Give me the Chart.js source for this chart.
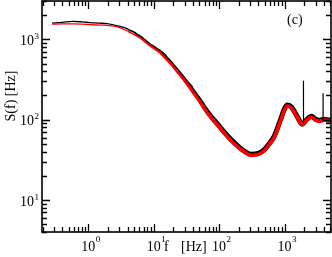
<!doctype html>
<html>

<head>
    <title>Power spectrum</title>
    <script src="https://cdn.jsdelivr.net/npm/chart.js@4"></script>
    <style>
        body { margin: 0; background: #fff; }
    </style>
</head>

<body>
    <div id="canvas-holder" style="width:332px;height:257px">
        <canvas id="chart-area" width="332" height="257"></canvas>
    </div>
    <script>
    // spectrum, f in Hz, S(f) in Hz
    var freqBlack = [0.28, 0.4, 0.58, 0.8, 1.06, 1.5, 1.94, 2.5, 3.07, 3.6, 4.2, 5, 5.6, 6.24, 7, 8, 9, 10, 11.5, 12.7, 14.5, 16, 18, 20, 23, 25.7, 29, 32, 36, 40, 46, 52, 58, 65, 74, 83, 100, 120, 151, 200, 250, 307, 400, 487, 580, 695, 850, 1000, 1100, 1250, 1362, 1600, 1850, 2200, 2573, 3000, 3418, 4000, 4875, 5200];
    var sBlack    = [1590, 1630, 1675, 1650, 1615, 1590, 1565, 1500, 1445, 1400, 1310, 1230, 1150, 1090, 1010, 925, 850, 805, 745, 705, 640, 580, 525, 470, 410, 368, 325, 292, 262, 228, 196, 170, 147, 129, 112, 100, 84, 70, 57, 46, 40, 37, 38, 42, 50, 62, 95, 136, 152, 146, 133, 106, 88, 101, 110, 101, 98, 101, 99, 99];

    var freqRed = [0.28, 0.4, 0.58, 0.8, 1.06, 1.5, 1.94, 2.5, 3.07, 4, 5, 6.24, 8, 10, 12.7, 16, 20, 25.7, 32, 40, 52, 65, 83, 100, 120, 151, 200, 250, 307, 400, 487, 580, 695, 850, 1000, 1100, 1250, 1362, 1600, 1850, 2200, 2573, 3000, 3418, 4000, 4875, 5200];
    var sRed    = [1545, 1555, 1560, 1545, 1520, 1505, 1495, 1460, 1395, 1260, 1150, 1040, 885, 775, 675, 555, 455, 355, 282, 220, 163, 124, 97, 81, 68, 55, 45, 39, 36, 37, 41, 49, 60, 92, 132, 148, 142, 130, 104, 87, 99, 107, 99, 96, 99, 97, 97];

    // narrow lines in the black spectrum
    var spikeFreq = [1950, 3890];
    var spikeBase = [90, 98];
    var spikeTop  = [306, 213];

    var xMin = 0.196, xMax = 5140;
    var yMin = 4.0, yMax = 3000;
    var xLabels = [1, 10, 100, 1000];
    var yLabels = [10, 100, 1000];

    var FONT = '"Liberation Serif", "DejaVu Serif", serif';

    function pts(fs, vs) {
        return fs.map(function(f, i) { return { x: f, y: vs[i] }; });
    }

    // line gets thicker (noisier) towards high frequencies
    function widthAt(f, lo, hi) {
        var t = (Math.log10(f) - 0.5) / 1.4;
        t = Math.max(0, Math.min(1, t));
        return lo + (hi - lo) * t;
    }

    var datasets = [];
    spikeFreq.forEach(function(f, i) {
        datasets.push({
            data: [{ x: f, y: spikeBase[i] }, { x: f, y: spikeTop[i] }, { x: f, y: spikeBase[i] }],
            borderColor: '#000',
            borderWidth: 1.2,
            pointRadius: 0,
            tension: 0,
            order: 0
        });
    });
    datasets.push({
        label: 'red',
        data: pts(freqRed, sRed),
        borderColor: '#ff0000',
        borderWidth: 1.3,
        pointRadius: 0,
        cubicInterpolationMode: 'monotone',
        order: 1,
        segment: {
            borderWidth: function(c) { return widthAt(c.p0.parsed.x, 1.3, 3.6); }
        }
    });
    datasets.push({
        label: 'black',
        data: pts(freqBlack, sBlack),
        borderColor: '#000',
        borderWidth: 1.3,
        pointRadius: 0,
        cubicInterpolationMode: 'monotone',
        order: 2,
        segment: {
            borderWidth: function(c) { return widthAt(c.p0.parsed.x, 1.3, 5); }
        }
    });

    function ticksFor(min, max) {
        var out = [];
        for (var d = Math.floor(Math.log10(min)); d <= Math.ceil(Math.log10(max)); d++) {
            for (var m = 1; m <= 9; m++) {
                var v = m * Math.pow(10, d);
                if (v >= min && v <= max) out.push({ v: v, major: m === 1 });
            }
        }
        return out;
    }

    function powLabel(ctx, x, y, exp, mode) {
        ctx.font = '14px ' + FONT;
        var w1 = ctx.measureText('10').width;
        ctx.font = '9px ' + FONT;
        var w2 = ctx.measureText(exp).width;
        var x0;
        if (mode === 'x') {
            x0 = x - w1 / 2;
            ctx.font = '14px ' + FONT;
            ctx.fillText('10', x0, y);
            ctx.font = '9px ' + FONT;
            ctx.fillText(exp, x0 + w1 + 0.5, y - 9);
        } else {
            x0 = x - w1 - w2 - 0.5;
            ctx.font = '14px ' + FONT;
            ctx.fillText('10', x0, y + 5.5);
            ctx.font = '9px ' + FONT;
            ctx.fillText(exp, x0 + w1 + 0.5, y - 0.5);
        }
    }

    var framePlugin = {
        id: 'frame',
        afterDraw: function(chart) {
            var ctx = chart.ctx;
            var a = chart.chartArea;
            var sx = chart.scales.x, sy = chart.scales.y;
            var L = Math.round(a.left), R = Math.round(a.right);
            var T = Math.round(a.top), B = Math.round(a.bottom);
            ctx.save();
            ctx.fillStyle = '#000';
            ctx.strokeStyle = '#000';

            // frame
            ctx.lineWidth = 1.6;
            ctx.strokeRect(L, T, R - L, B - T);

            // inward ticks on all four sides
            ctx.lineWidth = 1.3;
            ctx.beginPath();
            ticksFor(xMin, xMax).forEach(function(t) {
                var px = Math.round(sx.getPixelForValue(t.v)) + 0.5;
                var len = t.major ? 8 : 5;
                ctx.moveTo(px, B); ctx.lineTo(px, B - len);
                ctx.moveTo(px, T); ctx.lineTo(px, T + len);
            });
            ticksFor(yMin, yMax).forEach(function(t) {
                var py = Math.round(sy.getPixelForValue(t.v)) + 0.5;
                var len = t.major ? 8 : 5;
                ctx.moveTo(L, py); ctx.lineTo(L + len, py);
                ctx.moveTo(R, py); ctx.lineTo(R - len, py);
            });
            ctx.stroke();

            ctx.textBaseline = 'alphabetic';
            ctx.textAlign = 'left';
            xLabels.forEach(function(v) {
                powLabel(ctx, sx.getPixelForValue(v), 251, String(Math.round(Math.log10(v))), 'x');
            });
            yLabels.forEach(function(v) {
                powLabel(ctx, 39, sy.getPixelForValue(v), String(Math.round(Math.log10(v))), 'y');
            });

            ctx.font = '14px ' + FONT;
            ctx.fillText('f', 164, 251);
            ctx.fillText('[Hz]', 181, 251);
            ctx.fillText('(c)', 287, 24);

            ctx.translate(15, 96);
            ctx.rotate(-Math.PI / 2);
            ctx.textAlign = 'center';
            ctx.fillText('S(f) [Hz]', 0, 0);
            ctx.restore();
        }
    };

    var config = {
        type: 'line',
        data: { datasets: datasets },
        options: {
            responsive: false,
            animation: false,
            events: [],
            layout: { padding: { left: 42, right: 1, top: 1, bottom: 25 } },
            plugins: { legend: { display: false }, tooltip: { enabled: false } },
            scales: {
                x: { type: 'logarithmic', min: xMin, max: xMax, display: false },
                y: { type: 'logarithmic', min: yMin, max: yMax, display: false }
            }
        },
        plugins: [framePlugin]
    };

    window.onload = function() {
        var ctx = document.getElementById('chart-area').getContext('2d');
        window.myChart = new Chart(ctx, config);
    };
    </script>
</body>

</html>
